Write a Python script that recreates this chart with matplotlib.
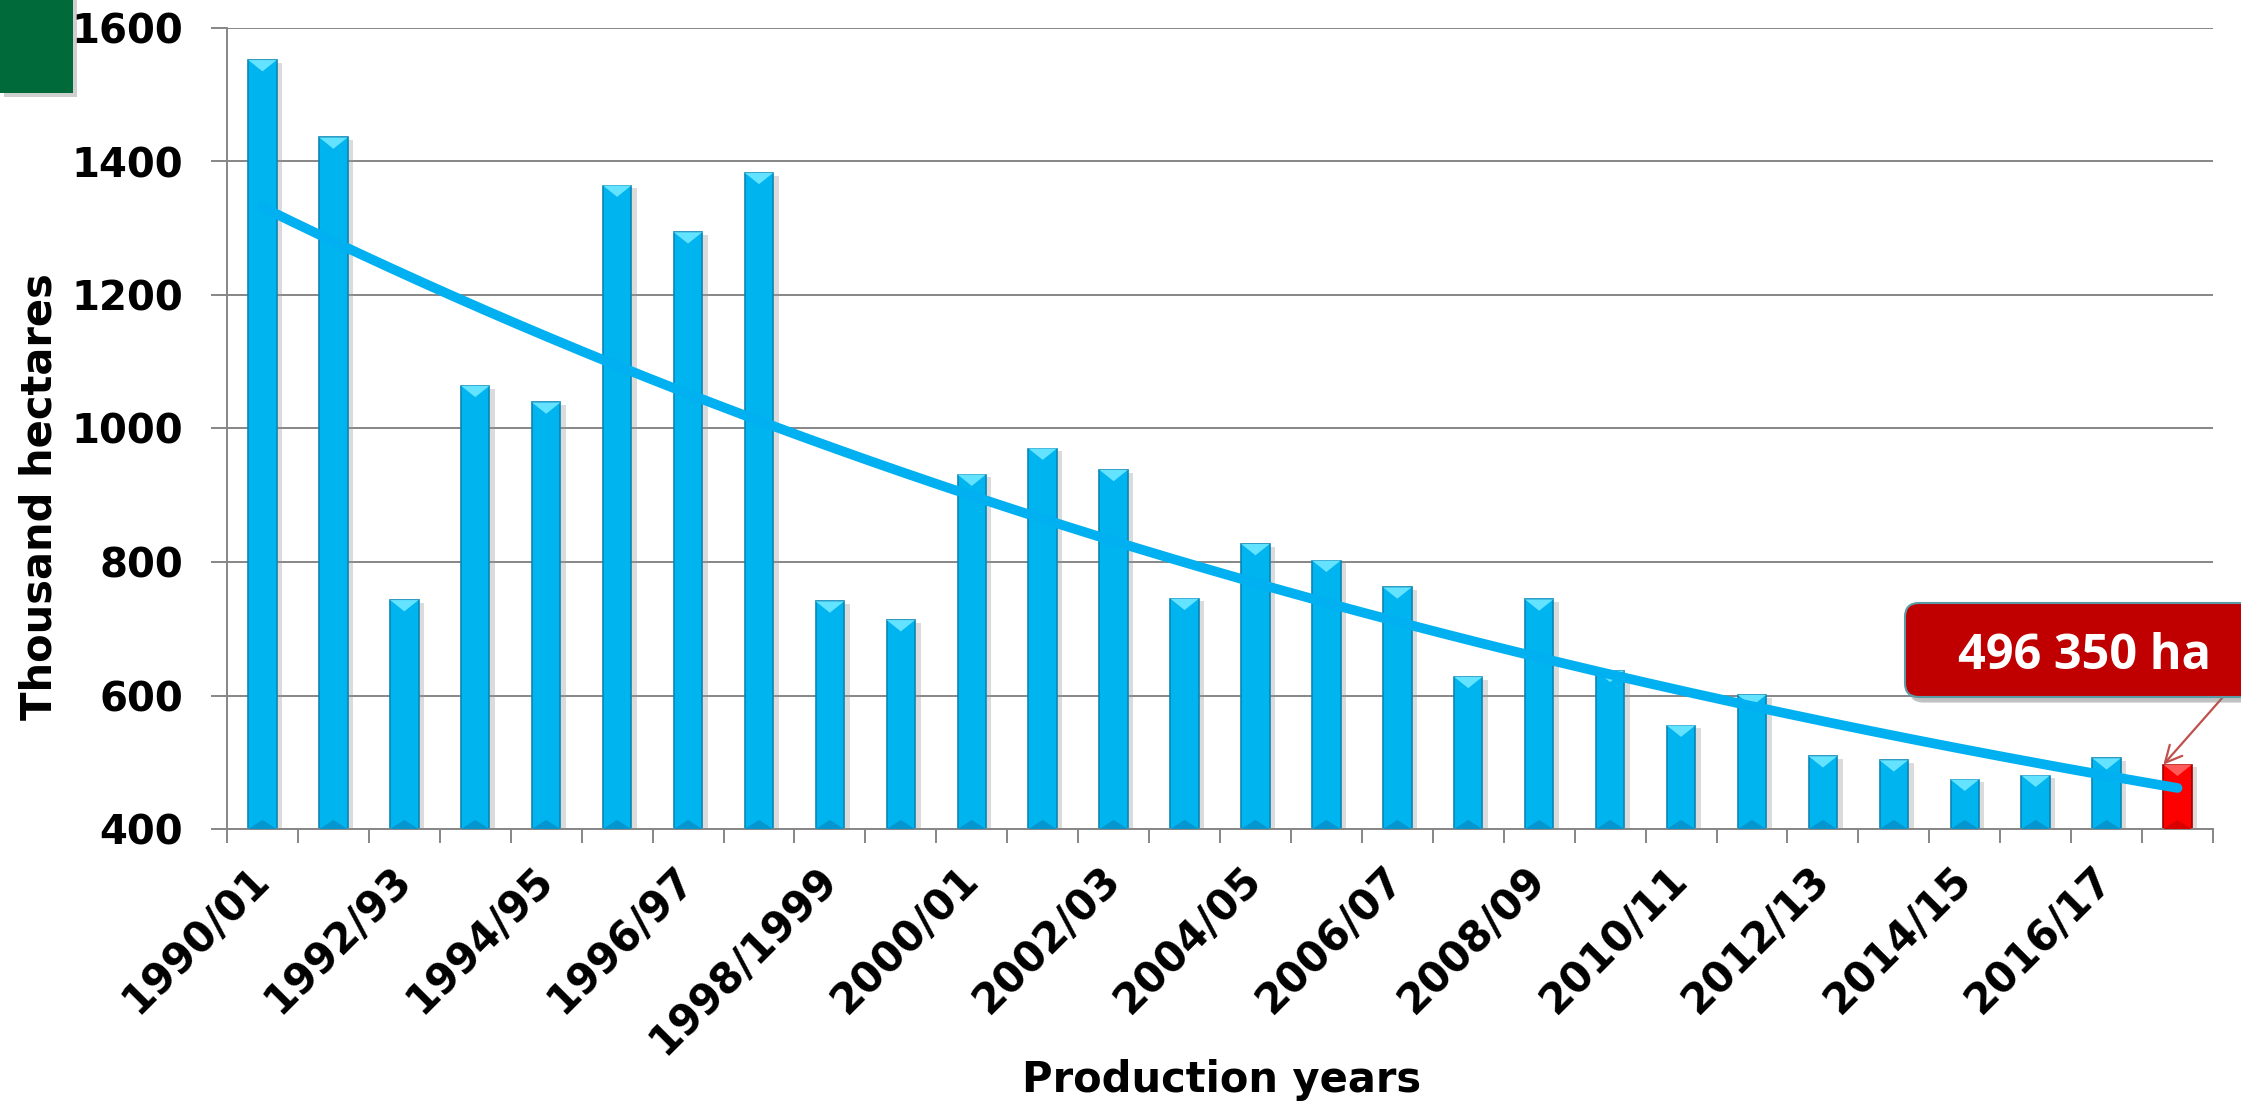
import numpy as np
import matplotlib
matplotlib.use("Agg")
import matplotlib.pyplot as plt
import matplotlib.patheffects as pe
from matplotlib.patches import Rectangle, FancyBboxPatch
from matplotlib.transforms import IdentityTransform, ScaledTranslation

# production years (only every second one is labelled on the axis)
years = ["1990/01", "1991/92", "1992/93", "1993/94", "1994/95", "1995/96", "1996/97",
         "1997/98", "1998/1999", "1999/2000", "2000/01", "2001/02", "2002/03", "2003/04",
         "2004/05", "2005/06", "2006/07", "2007/08", "2008/09", "2009/10", "2010/11",
         "2011/12", "2012/13", "2013/14", "2014/15", "2015/16", "2016/17", "2017/18"]
# thousand hectares
area = [1552, 1436, 743, 1064, 1039, 1364, 1294, 1383, 741, 713, 931, 970, 938, 745,
        827, 802, 762, 628, 744, 637, 555, 601, 509, 503, 474, 480, 506, 496.35]
yticks = [400, 600, 800, 1000, 1200, 1400, 1600]
callout = "496 350 ha"

W, H = 2241, 1116
plt.rcParams['font.family'] = ['DejaVu Sans']
fig = plt.figure(figsize=(W / 100, H / 100), dpi=100)
ax = fig.add_axes([227 / W, (H - 829) / H, (2213 - 227) / W, (829 - 28) / H])

x = np.arange(len(area))
vals = np.array(area)
colors = ["#00B4F0"] * (len(area) - 1) + ["#FF0000"]
edges = ["#0A86B5"] * (len(area) - 1) + ["#A00000"]
bw = 0.4
shadow = [pe.SimplePatchShadow(offset=(4, -2), shadow_rgbFace="#999999", alpha=0.35), pe.Normal()]
bars = ax.bar(x, vals - 400, bottom=400, width=bw, color=colors, edgecolor=edges,
              linewidth=1.2, zorder=2)
for b in bars:
    b.set_path_effects(shadow)

# bevel look on the bars
bev = 17
for xi, v, c in zip(x, vals, colors):
    top_c = "#63E3FF" if c != "#FF0000" else "#FF5A5A"
    bot_c = "#0596CF" if c != "#FF0000" else "#D80000"
    ax.fill([xi - bw / 2, xi + bw / 2, xi], [v, v, v - bev], color=top_c, lw=0, zorder=3)
    ax.fill([xi - bw / 2, xi + bw / 2, xi], [400, 400, 400 + bev * 0.8], color=bot_c, lw=0, zorder=3)

# exponential trendline fitted to the data (like Excel)
b1, b0 = np.polyfit(x + 1, np.log(vals), 1)
xs = np.linspace(0, len(area) - 1, 300)
ax.plot(xs, np.exp(b0 + b1 * (xs + 1)), color="#00B0F0", lw=7, solid_capstyle="round", zorder=4)

grey = "#868686"
ax.set_xlim(-0.5, len(area) - 0.5)
ax.set_ylim(400, 1600)
ax.set_yticks(yticks)
ax.yaxis.grid(True, color=grey, lw=1.4)
ax.set_axisbelow(True)
for s in ["top", "right"]:
    ax.spines[s].set_visible(False)
for s in ["left", "bottom"]:
    ax.spines[s].set_color(grey)
    ax.spines[s].set_linewidth(1.4)

ax.set_xticks(x[::2])
ax.set_xticklabels(years[::2], rotation=45, ha="right", va="center", rotation_mode="anchor",
                   fontsize=30, fontweight="bold")
shift = ScaledTranslation(9 / 100, 0, fig.dpi_scale_trans)
for t in ax.get_xticklabels():
    t.set_transform(t.get_transform() + shift)
ax.set_xticks(np.arange(-0.5, len(area), 1), minor=True)
ax.tick_params(axis="x", which="major", length=0, pad=32)
ax.tick_params(axis="x", which="minor", length=10, width=1.4, color=grey)
ax.tick_params(axis="y", length=11.5, width=1.4, color=grey, pad=20)
for t in ax.get_yticklabels():
    t.set_fontsize(29)
    t.set_fontweight("bold")

fig.text(40 / W, 1 - 497 / H, "Thousand hectares", rotation=90, ha="center", va="center",
         fontsize=30, fontweight="bold")
fig.text(1222 / W, 1 - 1080 / H, "Production years", ha="center", va="center",
         fontsize=30, fontweight="bold")

# green corner block
green = Rectangle((0, H - 93), 73, 100, transform=IdentityTransform(), facecolor="#016A3A",
                  edgecolor="none", zorder=5)
green.set_path_effects([pe.SimplePatchShadow(offset=(3, -3), shadow_rgbFace="#888888", alpha=0.4), pe.Normal()])
fig.patches.append(green)

# callout box
box = FancyBboxPatch((1905, H - 697), 420, 94, boxstyle="round,pad=0,rounding_size=14",
                     transform=IdentityTransform(), facecolor="#C00000", edgecolor="#5B9BA8",
                     lw=1.5, zorder=6)
box.set_path_effects([pe.SimplePatchShadow(offset=(3, -4), shadow_rgbFace="#777777", alpha=0.45), pe.Normal()])
fig.patches.append(box)
fig.text(2084 / W, 1 - 669 / H, callout, ha="center", va="baseline", color="white",
         fontsize=35, fontweight="bold", family=["Open Sans", "DejaVu Sans"], zorder=7)
ax.annotate("", xy=(x[-1] - bw / 2, vals[-1]), xycoords="data",
            xytext=(2223, H - 697), textcoords="figure pixels",
            arrowprops=dict(arrowstyle="->", color="#C0504D", lw=1.6, mutation_scale=30,
                            shrinkA=0, shrinkB=0), zorder=6, annotation_clip=False)

fig.savefig("out.png", dpi=100)
